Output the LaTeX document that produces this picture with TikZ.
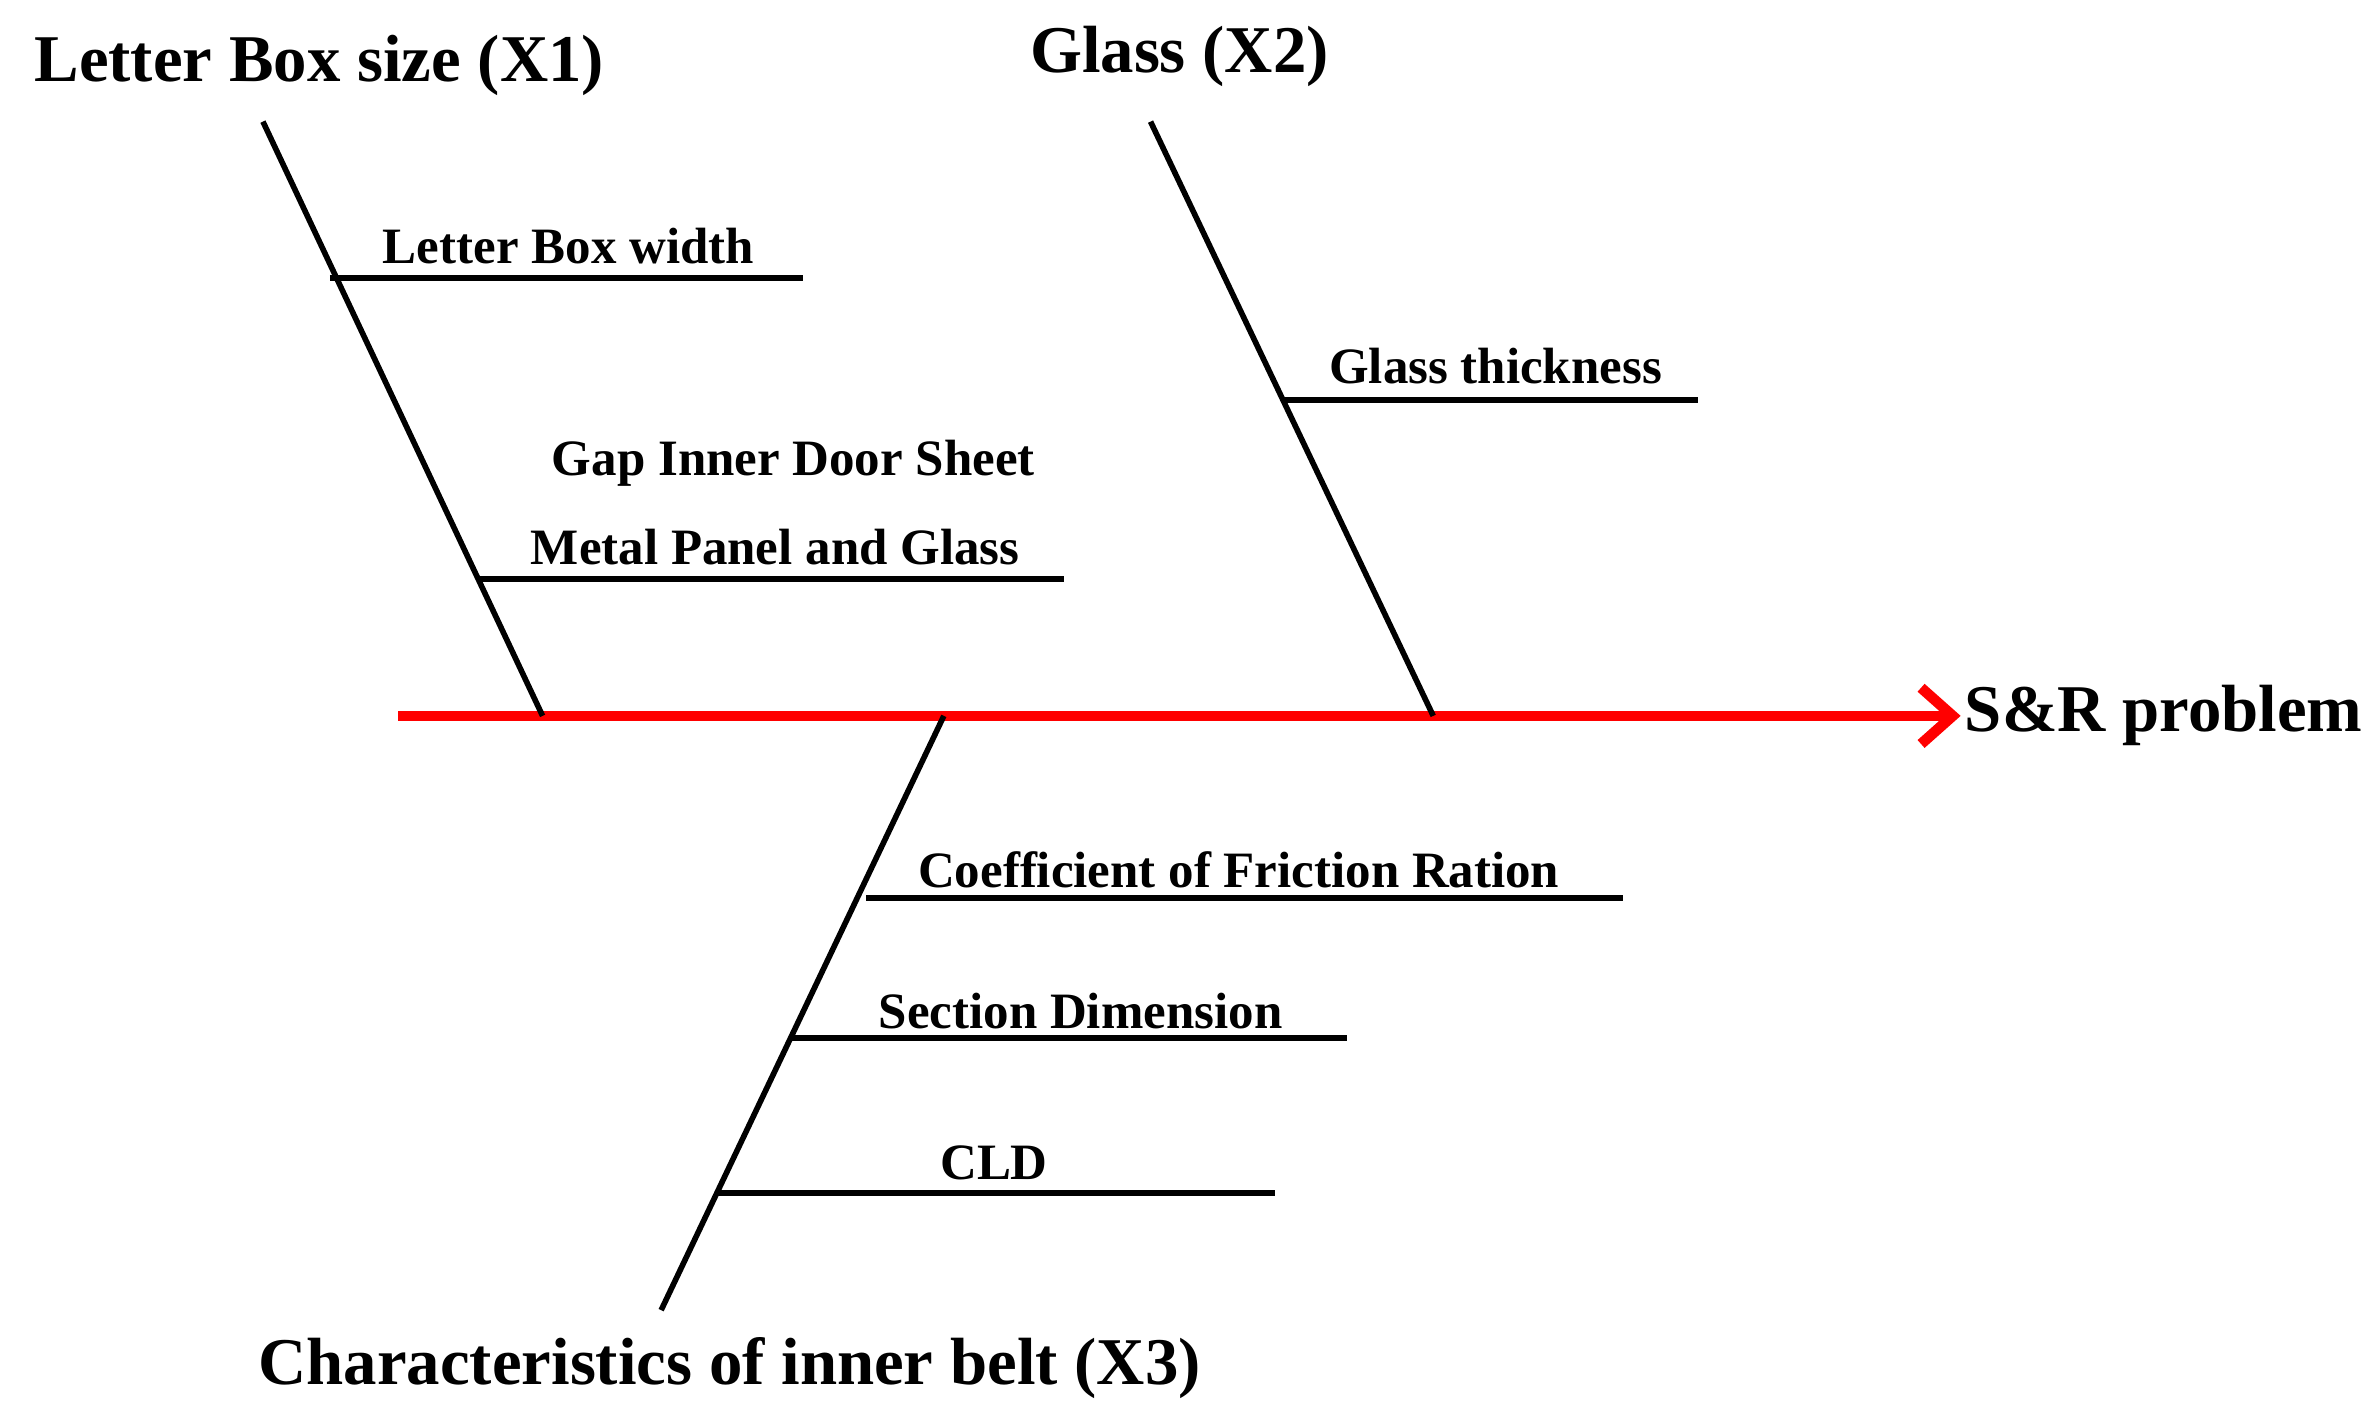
\documentclass[tikz,border=0pt]{standalone}
\usepackage{fontspec}
\setmainfont{Liberation Serif}
\usetikzlibrary{arrows.meta}
\tikzset{
  bone/.style={line width=1.6pt},
  cause/.style={font=\fontsize{19}{22}\selectfont\bfseries},
  sub/.style={font=\fontsize{14.5}{17}\selectfont\bfseries},
}
\begin{document}
\begin{tikzpicture}[x=0.0152cm,y=-0.0152cm]
\useasboundingbox (0,0) rectangle (1560,934);
% spine
\coordinate (tail) at (262,471);
\coordinate (head) at (1290,471);
\draw[red,line width=3pt,-{Straight Barb[length=9pt,width=16pt]}] (tail) -- (head);
\node[cause,anchor=west,inner sep=1pt] (effect) at (1290,471) {S\&R problem};
% X1
\node[cause] (x1) at (210,43) {Letter Box size (X1)};
\coordinate (x1a) at (173,80); \coordinate (x1b) at (357,471);
\draw[bone] (x1a) -- (x1b);
\coordinate (s1a) at (217,183); \coordinate (s1b) at (528,183);
\draw[bone] (s1a) -- (s1b);
\node[sub] (s1) at (374,162) {Letter Box width};
\coordinate (s2a) at (315,381); \coordinate (s2b) at (700,381);
\draw[bone] (s2a) -- (s2b);
\node[sub] (s2t) at (522,305) {Gap Inner Door Sheet};
\node[sub] (s2) at (510,360) {Metal Panel and Glass};
% X2
\node[cause] (x2) at (776,37) {Glass (X2)};
\coordinate (x2a) at (757,80); \coordinate (x2b) at (943,471);
\draw[bone] (x2a) -- (x2b);
\coordinate (s3a) at (845,263); \coordinate (s3b) at (1117,263);
\draw[bone] (s3a) -- (s3b);
\node[sub] (s3) at (984,241) {Glass thickness};
% X3
\node[cause] (x3) at (480,900) {Characteristics of inner belt (X3)};
\coordinate (x3a) at (621,471); \coordinate (x3b) at (435,862);
\draw[bone] (x3a) -- (x3b);
\coordinate (s4a) at (570,591); \coordinate (s4b) at (1068,591);
\draw[bone] (s4a) -- (s4b);
\node[sub] (s4) at (815,572) {Coefficient of Friction Ration};
\coordinate (s5a) at (521,683); \coordinate (s5b) at (886,683);
\draw[bone] (s5a) -- (s5b);
\node[sub] (s5) at (711,665) {Section Dimension};
\coordinate (s6a) at (472,785); \coordinate (s6b) at (839,785);
\draw[bone] (s6a) -- (s6b);
\node[sub] (s6) at (654,765) {CLD};
\end{tikzpicture}
\end{document}
